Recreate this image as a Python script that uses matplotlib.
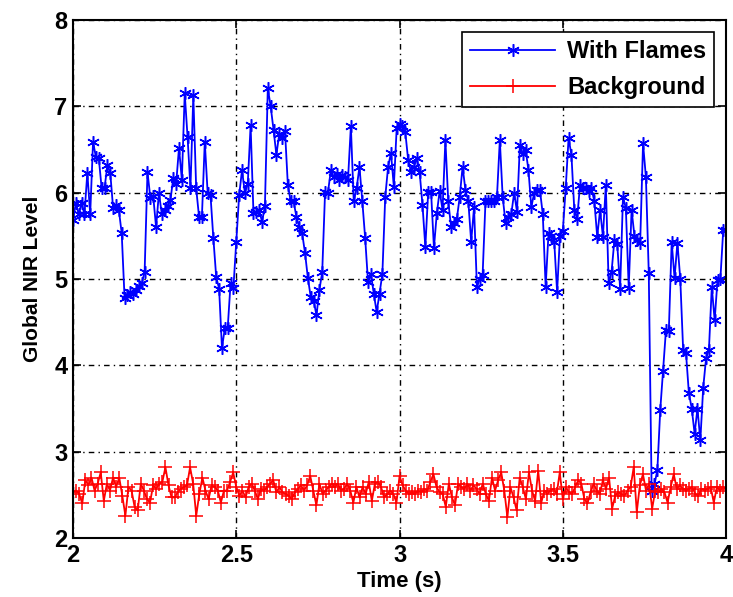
import matplotlib
matplotlib.use("Agg")
import matplotlib.pyplot as plt
import numpy as np

plt.rcParams['font.family'] = ['Liberation Sans', 'DejaVu Sans']
plt.rcParams['font.weight'] = 'bold'

# Global NIR level, with flames (roughly uniform sampling)
flames = [
    5.68, 5.88, 5.75, 5.88, 5.75, 6.23, 5.75, 6.59, 6.41, 6.40,
    6.05, 6.05, 6.32, 6.23, 5.82, 5.86, 5.80, 5.53, 4.78, 4.82,
    4.85, 4.83, 4.87, 4.92, 4.95, 5.08, 6.24, 5.94, 5.96, 5.60,
    6.00, 5.75, 5.80, 5.85, 5.91, 6.17, 6.10, 6.52, 6.15, 7.15,
    6.64, 6.05, 7.13, 6.05, 5.72, 5.72, 6.59, 6.00, 5.97, 5.47,
    5.02, 4.89, 4.20, 4.43, 4.43, 4.95, 4.90, 5.43, 5.97, 6.26,
    6.00, 6.10, 6.78, 5.76, 5.78, 5.80, 5.66, 5.85, 7.21, 7.00,
    6.73, 6.44, 6.68, 6.63, 6.72, 6.09, 5.90, 5.90, 5.72, 5.60,
    5.53, 5.30, 5.01, 4.79, 4.75, 4.58, 4.87, 5.08, 6.01, 6.00,
    6.26, 6.18, 6.22, 6.15, 6.20, 6.18, 6.15, 6.77, 5.90, 6.05,
    6.30, 5.90, 5.47, 4.96, 5.06, 4.83, 4.62, 4.83, 5.06, 5.95,
    6.30, 6.46, 6.07, 6.75, 6.80, 6.77, 6.70, 6.38, 6.24, 6.30,
    6.40, 6.24, 5.86, 5.37, 6.01, 6.01, 5.36, 5.76, 6.02, 5.80,
    6.61, 5.90, 5.60, 5.65, 5.70, 5.95, 6.30, 6.03, 5.90, 5.43,
    5.83, 4.91, 5.00, 5.05, 5.90, 5.90, 5.90, 5.90, 5.95, 6.61,
    5.95, 5.65, 5.72, 5.75, 6.00, 5.78, 6.55, 6.45, 6.50, 6.26,
    5.83, 6.00, 6.03, 6.03, 5.75, 4.91, 5.53, 5.50, 5.43, 4.85,
    5.50, 5.56, 6.05, 6.63, 6.44, 5.80, 5.70, 6.09, 6.05, 6.05,
    6.02, 6.05, 5.90, 5.49, 5.80, 5.49, 6.09, 4.95, 5.08, 5.45,
    5.40, 4.89, 5.95, 5.82, 4.90, 5.80, 5.50, 5.45, 5.42, 6.57,
    6.18, 5.07, 2.55, 2.62, 2.79, 3.48, 3.94, 4.41, 4.40, 5.43,
    5.01, 5.42, 5.00, 4.18, 4.14, 3.68, 3.50, 3.21, 3.50, 3.13,
    3.74, 4.08, 4.18, 4.91, 4.52, 4.99, 5.00, 5.57, 5.57,
]

# Background NIR level
background = [
    2.53, 2.55, 2.51, 2.40, 2.67, 2.61, 2.70, 2.55, 2.63, 2.76,
    2.43, 2.63, 2.55, 2.70, 2.59, 2.70, 2.49, 2.26, 2.59, 2.55,
    2.36, 2.32, 2.63, 2.55, 2.45, 2.41, 2.61, 2.57, 2.63, 2.65,
    2.82, 2.61, 2.47, 2.47, 2.53, 2.57, 2.59, 2.61, 2.82, 2.63,
    2.26, 2.51, 2.70, 2.55, 2.45, 2.61, 2.59, 2.55, 2.41, 2.55,
    2.55, 2.65, 2.76, 2.59, 2.49, 2.55, 2.47, 2.59, 2.63, 2.55,
    2.45, 2.57, 2.55, 2.59, 2.63, 2.67, 2.53, 2.59, 2.53, 2.51,
    2.49, 2.45, 2.53, 2.57, 2.61, 2.55, 2.61, 2.72, 2.55, 2.38,
    2.63, 2.51, 2.55, 2.59, 2.63, 2.59, 2.63, 2.55, 2.57, 2.63,
    2.55, 2.41, 2.59, 2.47, 2.59, 2.51, 2.65, 2.43, 2.63, 2.65,
    2.59, 2.47, 2.51, 2.55, 2.51, 2.41, 2.72, 2.61, 2.55, 2.51,
    2.53, 2.51, 2.55, 2.53, 2.57,
    2.55, 2.65, 2.74, 2.59, 2.53, 2.51, 2.36, 2.63, 2.47, 2.38,
    2.63, 2.59, 2.57, 2.63, 2.55, 2.61, 2.57, 2.51, 2.63, 2.51,
    2.43, 2.70, 2.55, 2.67, 2.76, 2.55, 2.24, 2.59, 2.47, 2.32,
    2.70, 2.59, 2.45, 2.76, 2.55, 2.43, 2.78, 2.41, 2.55, 2.51,
    2.55, 2.57, 2.51, 2.76, 2.45, 2.59, 2.53, 2.51, 2.59, 2.67,
    2.63, 2.45, 2.40, 2.53, 2.63, 2.55, 2.51, 2.67, 2.57, 2.70,
    2.34, 2.49, 2.53, 2.51, 2.49, 2.55, 2.59, 2.82, 2.30, 2.61,
    2.74, 2.55, 2.63, 2.34, 2.55, 2.53, 2.57, 2.53, 2.41, 2.59,
    2.74, 2.57, 2.61, 2.57, 2.55, 2.57, 2.59, 2.51, 2.49, 2.57,
    2.55, 2.57, 2.59, 2.41, 2.59, 2.55, 2.59, 2.57,
]

t_flames = np.linspace(2, 4, len(flames))
t_back = np.linspace(2, 4, len(background))

fig = plt.figure(figsize=(7.33, 5.97), dpi=100)
ax = fig.add_axes([0.0996, 0.0988, 0.8910, 0.8677])

# MATLAB style asterisk marker
ax.plot(t_flames, flames, color=(0, 0, 1), lw=1.3, marker=(6, 2, 0), ms=9,
        mew=1.1, label='With Flames')
ax.plot(t_back, background, color=(1, 0, 0), lw=1.3, marker='+', ms=10,
        mew=1.1, label='Background')

ax.set_xlim(2, 4)
ax.set_ylim(2, 8)
ax.set_xticks([2, 2.5, 3, 3.5, 4])
ax.set_xticklabels(['2', '2.5', '3', '3.5', '4'])
ax.set_yticks([2, 3, 4, 5, 6, 7, 8])

ax.grid(True, color='black', linestyle=(0, (4, 3, 1, 3)), linewidth=1.0)
ax.tick_params(direction='in', length=6, width=1.2, top=True, right=True,
               labelsize=17, pad=4)
for s in ax.spines.values():
    s.set_linewidth(1.5)

ax.set_xlabel('Time (s)', fontsize=16, fontweight='bold', labelpad=3)
ax.set_ylabel('Global NIR Level', fontsize=15, fontweight='bold', labelpad=9)

leg = ax.legend(loc='upper right', prop={'size': 17, 'weight': 'bold'},
                fancybox=False, framealpha=1, edgecolor='black',
                handlelength=3.6, handletextpad=0.5,
                borderaxespad=0.5, borderpad=0.35, labelspacing=0.55)
leg.get_frame().set_linewidth(1.2)

fig.savefig('out.png', dpi=100)
